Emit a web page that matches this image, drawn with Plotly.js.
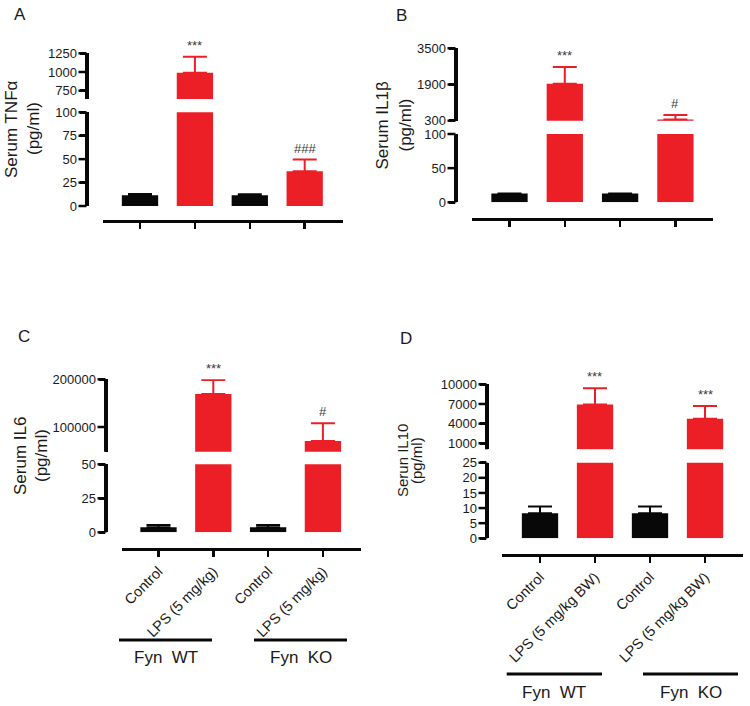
<!DOCTYPE html>
<html>
<head>
<meta charset="utf-8">
<script src="https://cdn.plot.ly/plotly-3.0.1.min.js"></script>
<style>html,body{margin:0;padding:0;background:#fff;}#chart{width:750px;height:706px;}</style>
</head>
<body>
<div id="chart"></div>
<script>
// ---------- data ----------
const groupKeys = [0, 1, 2, 3];
const tickLabelsC = ['Control', 'LPS (5 mg/kg)', 'Control', 'LPS (5 mg/kg)'];
const tickLabelsD = ['Control', 'LPS (5 mg/kg BW)', 'Control', 'LPS (5 mg/kg BW)'];
const groupNames = ['Fyn\u00a0\u00a0WT', 'Fyn\u00a0\u00a0KO'];
const unitText = '(pg/ml)';

const tnfTitle = 'Serum TNF\u03b1';
const tnfMean = [11.5, 990, 11.5, 37];
const tnfErr = [1.2, 215, 1.0, 12.5];
const tnfSig = ['', '***', '', '###'];
const tnfUpperTicks = [750, 1000, 1250];
const tnfLowerTicks = [0, 25, 50, 75, 100];
const tnfUpperRange = [639, 1250];
const tnfLowerRange = [0, 100];

const il1bTitle = 'Serum IL1\u03b2';
const il1bMean = [13, 1930, 13, 355];
const il1bErr = [0, 745, 0, 195];
const il1bSig = ['', '***', '', '#'];
const il1bUpperTicks = [300, 1900, 3500];
const il1bLowerTicks = [0, 50, 100];
const il1bUpperRange = [300, 3500];
const il1bLowerRange = [0, 100];

const il6Title = 'Serum IL6';
const il6Mean = [3.7, 169000, 3.7, 70600];
const il6Err = [1.6, 29500, 1.6, 37000];
const il6Sig = ['', '***', '', '#'];
const il6UpperTicks = [100000, 200000];
const il6LowerTicks = [0, 25, 50];
const il6UpperRange = [48200, 200000];
const il6LowerRange = [0, 50];

const il10Title = 'Serun IL10';
const il10Mean = [8.3, 6900, 8.3, 4760];
const il10Err = [2.2, 2490, 2.2, 1920];
const il10Sig = ['', '***', '', '***'];
const il10UpperTicks = [1000, 4000, 7000, 10000];
const il10LowerTicks = [0, 5, 10, 15, 20, 25];
const il10UpperRange = [85, 10000];
const il10LowerRange = [0, 25];

// ---------- layout helpers ----------
const W = 750, H = 706;
const px = x => x / W;
const py = y => 1 - y / H;
const RED = '#ec1f26', BLACK = '#080808', TXT = '#1a1a1a';
const FONT = 'Liberation Sans, Arial, sans-serif';

const panels = [
  {letter: 'A', title: tnfTitle, mean: tnfMean, err: tnfErr, sig: tnfSig,
   upT: tnfUpperTicks, loT: tnfLowerTicks, upR: tnfUpperRange, loR: tnfLowerRange, labels: null,
   g: {ax: 86.5, upTop: 53.3, upBot: 99, loTop: 112.3, loBot: 206, xLine: 221, xL: 103, xR: 343, c0: 140, step: 54.9,
       letter: [20, 15], t1: 12, t2: 34, tY: 129, tSize: 17}},
  {letter: 'B', title: il1bTitle, mean: il1bMean, err: il1bErr, sig: il1bSig,
   upT: il1bUpperTicks, loT: il1bLowerTicks, upR: il1bUpperRange, loR: il1bLowerRange, labels: null,
   g: {ax: 455.5, upTop: 48.3, upBot: 120.7, loTop: 134, loBot: 202.3, xLine: 219, xL: 472, xR: 713, c0: 509.5, step: 55.3,
       letter: [401.5, 16], t1: 382, t2: 405, tY: 125.5, tSize: 17}},
  {letter: 'C', title: il6Title, mean: il6Mean, err: il6Err, sig: il6Sig,
   upT: il6UpperTicks, loT: il6LowerTicks, upR: il6UpperRange, loR: il6LowerRange, labels: tickLabelsC,
   g: {ax: 105.5, upTop: 379.3, upBot: 451.7, loTop: 464.3, loBot: 532.3, xLine: 549.3, xL: 122, xR: 361, c0: 158.5, step: 54.8,
       letter: [24, 336], t1: 20, t2: 41, tY: 456, tSize: 17,
       gl: {y: 640, segs: [[119, 212], [254, 347]], ty: 657}}},
  {letter: 'D', title: il10Title, mean: il10Mean, err: il10Err, sig: il10Sig,
   upT: il10UpperTicks, loT: il10LowerTicks, upR: il10UpperRange, loR: il10LowerRange, labels: tickLabelsD,
   g: {ax: 486.5, upTop: 384.3, upBot: 449.3, loTop: 462.7, loBot: 538.3, xLine: 555, xL: 501.7, xR: 743, c0: 540, step: 55,
       letter: [405.5, 338], t1: 402, t2: 416, tY: 461, tSize: 15,
       gl: {y: 674, segs: [[506.7, 602], [643, 738]], ty: 692}}}
];

const data = [];
const layout = {
  width: W, height: H, autosize: false,
  margin: {l: 0, r: 0, t: 0, b: 0, pad: 0},
  paper_bgcolor: '#fff', plot_bgcolor: 'rgba(0,0,0,0)',
  showlegend: false, barmode: 'overlay',
  font: {family: FONT},
  annotations: [], shapes: []
};

const yAxisBase = {
  showgrid: false, zeroline: false, showline: true, linecolor: BLACK, linewidth: 3,
  ticks: 'outside', ticklen: 6, tickwidth: 2.5, tickcolor: BLACK, tickmode: 'array',
  tickformat: 'd', exponentformat: 'none',
  tickfont: {family: FONT, size: 13, color: TXT}, anchor: 'free', fixedrange: true
};

// linear axis scale: value -> paper fraction, given the axis range and its paper domain
const scaleToPaper = (v, rng, dom) => dom[0] + (v - rng[0]) / (rng[1] - rng[0]) * (dom[1] - dom[0]);

panels.forEach((p, i) => {
  const g = p.g;
  const xn = i === 0 ? '' : String(i + 1);
  const yLo = String(2 * i + 1), yUp = String(2 * i + 2);
  const xKey = 'xaxis' + xn, xRef = 'x' + xn;
  const yLoKey = 'yaxis' + (yLo === '1' ? '' : yLo), yLoRef = 'y' + (yLo === '1' ? '' : yLo);
  const yUpKey = 'yaxis' + yUp, yUpRef = 'y' + yUp;
  const barW = 36.3 / g.step;

  layout[xKey] = {
    domain: [px(g.xL), px(g.xR)], anchor: 'free', position: py(g.xLine),
    range: [-(g.c0 - g.xL) / g.step, 3 + (g.xR - (g.c0 + 3 * g.step)) / g.step],
    showgrid: false, zeroline: false, showline: true, linecolor: BLACK, linewidth: 3,
    ticks: 'outside', ticklen: 6, tickwidth: 2.5, tickcolor: BLACK,
    tickmode: 'array', tickvals: groupKeys, ticktext: p.labels || ['', '', '', ''],
    showticklabels: !!p.labels, tickangle: -45,
    tickfont: {family: FONT, size: 14.5, color: TXT}, fixedrange: true
  };
  const segs = [[yLoKey, g.loBot, g.loTop, p.loR, p.loT], [yUpKey, g.upBot, g.upTop, p.upR, p.upT]];
  segs.forEach(([key, bot, top, rng, tv]) => {
    const dom = [py(bot), py(top)];
    layout[key] = Object.assign({}, yAxisBase, {
      domain: dom, range: rng, tickvals: tv, position: px(g.ax)
    });
    // axis spine along this segment
    layout.shapes.push({type: 'line', xref: 'paper', yref: 'paper', layer: 'above',
      x0: px(g.ax), x1: px(g.ax), y0: dom[0], y1: dom[1], line: {color: BLACK, width: 3}});
    // tick marks at the tick values
    tv.forEach(v => {
      const yv = scaleToPaper(v, rng, dom);
      layout.shapes.push({type: 'line', xref: 'paper', yref: 'paper', layer: 'above',
        x0: px(g.ax - 8), x1: px(g.ax), y0: yv, y1: yv, line: {color: BLACK, width: 2.5}});
    });
  });

  const ctrlIdx = [0, 2], lpsIdx = [1, 3];
  [[yLoRef, false], [yUpRef, true]].forEach(([yr, upper]) => {
    [[ctrlIdx, BLACK], [lpsIdx, RED]].forEach(([idx0, col]) => {
      const idx = upper ? idx0.filter(k => p.mean[k] + p.err[k] > p.upR[0]) : idx0;
      if (!idx.length) return;
      data.push({
        type: 'bar', xaxis: xRef, yaxis: yr,
        x: idx.map(k => groupKeys[k]), y: idx.map(k => p.mean[k]),
        width: barW, marker: {color: col},
        error_y: {type: 'data', symmetric: false, array: idx.map(k => p.err[k]),
                  arrayminus: idx.map(() => 0), color: col, thickness: 2, width: 12}
      });
    });
  });

  // significance markers
  p.sig.forEach((s, k) => {
    if (!s) return;
    const top = p.mean[k] + p.err[k];
    const onUpper = top >= p.upR[0];
    layout.annotations.push({
      xref: xRef, yref: onUpper ? yUpRef : yLoRef, x: groupKeys[k], y: top,
      text: s, showarrow: false, yanchor: 'bottom', xanchor: 'center',
      yshift: 2,
      font: {family: FONT, size: 13, color: '#3a3a3a'}
    });
  });

  // panel letter
  layout.annotations.push({
    xref: 'paper', yref: 'paper', x: px(g.letter[0]), y: py(g.letter[1]),
    text: p.letter, showarrow: false, xanchor: 'center', yanchor: 'middle',
    font: {family: FONT, size: 17, color: TXT}
  });
  // y titles
  layout.annotations.push({
    xref: 'paper', yref: 'paper', x: px(g.t1), y: py(g.tY), text: p.title, textangle: -90,
    showarrow: false, xanchor: 'center', yanchor: 'middle',
    font: {family: FONT, size: g.tSize, color: TXT}
  });
  layout.annotations.push({
    xref: 'paper', yref: 'paper', x: px(g.t2), y: py(g.tY), text: unitText, textangle: -90,
    showarrow: false, xanchor: 'center', yanchor: 'middle',
    font: {family: FONT, size: g.tSize, color: TXT}
  });

  // group brackets
  if (g.gl) {
    g.gl.segs.forEach((sg, j) => {
      layout.shapes.push({type: 'line', xref: 'paper', yref: 'paper',
        x0: px(sg[0]), x1: px(sg[1]), y0: py(g.gl.y), y1: py(g.gl.y),
        line: {color: BLACK, width: 3}});
      layout.annotations.push({
        xref: 'paper', yref: 'paper', x: px((sg[0] + sg[1]) / 2), y: py(g.gl.ty),
        text: groupNames[j], showarrow: false, xanchor: 'center', yanchor: 'middle',
        font: {family: FONT, size: 17, color: TXT}
      });
    });
  }
});

Plotly.newPlot('chart', data, layout, {staticPlot: true, displayModeBar: false});
</script>
</body>
</html>
